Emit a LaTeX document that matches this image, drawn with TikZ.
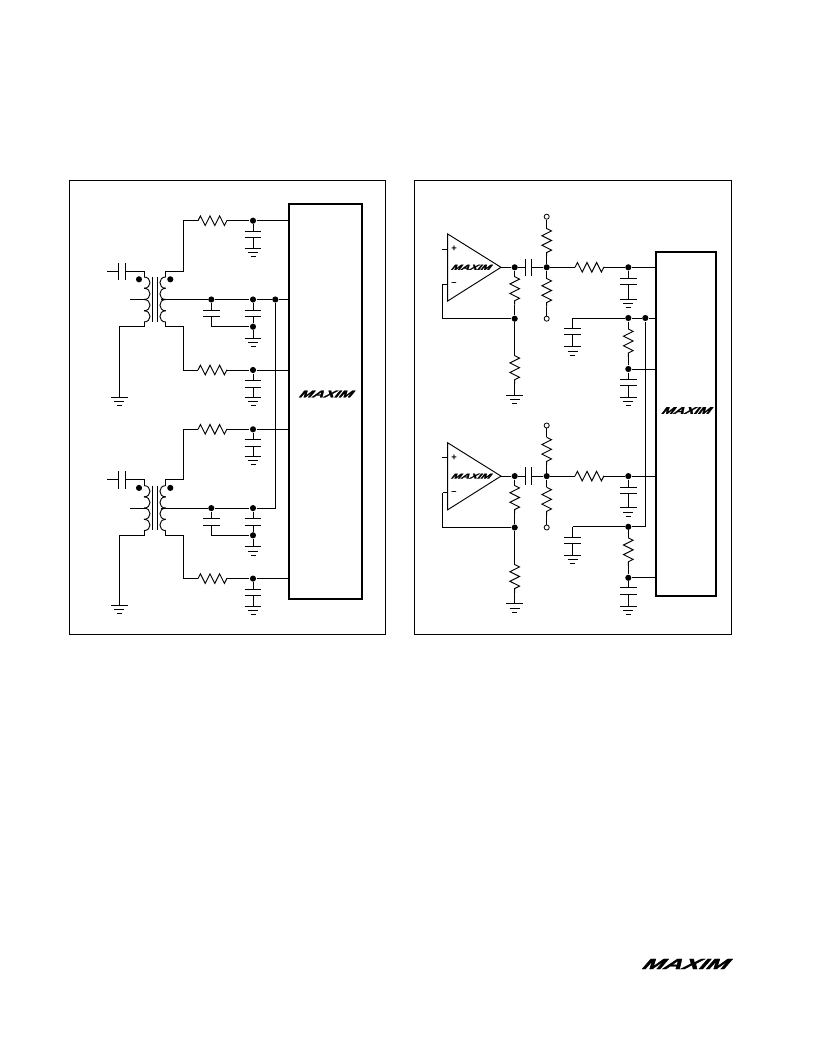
\documentclass[tikz,border=0pt]{standalone}
\usepackage{fontspec}
\usepackage{tikz}
\usetikzlibrary{decorations.pathmorphing}
\newfontfamily\logofont[FakeSlant=0.5,FakeBold=2]{Liberation Sans}
\newfontfamily\signfont{Liberation Sans}
\newcommand{\maximtext}[2]{\resizebox{#1}{#2}{\logofont\bfseries MAXIM}}
\tikzset{
  wire/.style={line width=0.7pt},
  dot/.style={circle,fill=black,inner sep=0pt,minimum size=4.6pt},
  hole/.style={circle,draw,fill=white,line width=0.6pt,inner sep=0pt,minimum size=3.8pt},
  resistor/.style={decorate,decoration={zigzag,segment length=7.2pt,amplitude=3.6pt}},
  pinsign/.style={inner sep=0pt,font=\signfont\fontsize{7}{7}\selectfont\bfseries},
  platev/.pic={\draw (0,-8.7) -- (0,8.7);},
  plateh/.pic={\draw (-8.3,0) -- (8.3,0);},
  gnd/.pic={\draw (-8.3,0) -- (8.3,0) (-5,4.3) -- (5,4.3) (-2.5,8.3) -- (2.5,8.3);},
  pics/capgnd/.style={code={
    \draw (-8.3,0) -- (8.3,0) (-8.3,6.5) -- (8.3,6.5);
    \draw (0,6.5) -- (0,#1) pic{gnd};}}
}
\begin{document}
\begin{tikzpicture}[x=0.75pt,y=-0.75pt,every path/.style={wire}]
\useasboundingbox (0,0) rectangle (816,1056);
\draw (69,180.5) rectangle (385,634);
\draw (414.5,180.5) rectangle (731,634);
\draw[line width=1.5pt] (289,204) coordinate (icLnw) rectangle (362,598.7);
\draw[line width=1.5pt] (656,252) coordinate (icRnw) rectangle (716,596);
\node[inner sep=0pt] (logoL) at (324.5,394) {\maximtext{39.8pt}{5pt}};
\node[inner sep=0pt] (logoR) at (685,410.5) {\maximtext{36.5pt}{5pt}};
\node[inner sep=0pt] (logoP) at (683,964) {\maximtext{64pt}{7.6pt}};
% left side, two transformer stages
\foreach \dy/\u in {0/a,208.6/b}{
\begin{scope}[shift={(0,\dy)}]
  \coordinate (in\u) at (107,271.2);
  \coordinate (cpa\u) at (118,271.2);
  \coordinate (cpb\u) at (125,271.2);
  \coordinate (pt\u) at (144,271.2);
  \coordinate (pb\u) at (144,326.7);
  \coordinate (pg\u) at (119.3,326.7);
  \coordinate (gp\u) at (119.3,397);
  \coordinate (ptap\u) at (130,299.5);
  \coordinate (ptip\u) at (146,299.5);
  \coordinate (st\u) at (165.7,271.2);
  \coordinate (sb\u) at (165.7,326.7);
  \coordinate (stk\u) at (183.5,271.2);
  \coordinate (sbk\u) at (183.5,326.7);
  \coordinate (stn\u) at (183.5,220.7);
  \coordinate (sbn\u) at (183.5,370);
  \coordinate (rta\u) at (198,220.7);
  \coordinate (rtb\u) at (227,220.7);
  \coordinate (rba\u) at (198,370);
  \coordinate (rbb\u) at (227,370);
  \coordinate (stip\u) at (160.5,299.5);
  \node[dot] (dt\u) at (253,220.7) {};
  \node[dot] (db\u) at (253,370) {};
  \node[dot] (dca\u) at (211.3,299.5) {};
  \node[dot] (dcb\u) at (253,299.5) {};
  \node[dot] (dg\u) at (253,326.7) {};
  \node[dot] (pdot\u) at (139,279.3) {};
  \node[dot] (sdot\u) at (170.3,279.3) {};
  \coordinate (ct\u) at (253,231);
  \coordinate (cb\u) at (253,380.5);
  \coordinate (cca\u) at (211.3,310);
  \coordinate (ccb\u) at (211.3,316.7);
  \coordinate (cck\u) at (211.3,326.7);
  \coordinate (cda\u) at (253,310);
  \coordinate (cdb\u) at (253,316.7);
  \coordinate (gc\u) at (253,338.3);
  % primary
  \draw (in\u) -- (cpa\u) pic{platev} (cpb\u) pic{platev} -- (pt\u) -- (144,277);
  \draw (144,322) -- (pb\u) -- (pg\u) -- (gp\u) pic{gnd};
  \draw (ptap\u) -- (ptip\u);
  \foreach \y in {277,288.25,299.5,310.75}{
    \draw (144,\y) .. controls (152,\y) and (152,\y+11.25) .. (144,\y+11.25);
    \draw (165.7,\y) .. controls (158,\y) and (158,\y+11.25) .. (165.7,\y+11.25);
  }
  \draw (152.3,277) -- (152.3,321.7);
  \draw (157.7,277) -- (157.7,321.7);
  % secondary
  \draw (165.7,277) -- (st\u) -- (stk\u) -- (stn\u) -- (rta\u);
  \draw[resistor] (rta\u) -- (rtb\u);
  \draw (rtb\u) -- (dt\u) -- (dt\u -| icLnw);
  \draw (165.7,322) -- (sb\u) -- (sbk\u) -- (sbn\u) -- (rba\u);
  \draw[resistor] (rba\u) -- (rbb\u);
  \draw (rbb\u) -- (db\u) -- (db\u -| icLnw);
  \draw (dt\u) -- (ct\u) pic{capgnd=17};
  \draw (db\u) -- (cb\u) pic{capgnd=17};
  % centre tap
  \draw (stip\u) -- (dca\u) -- (dcb\u);
  \draw (dca\u) -- (cca\u) pic{plateh} (ccb\u) pic{plateh} -- (cck\u) -- (dg\u);
  \draw (dcb\u) -- (cda\u) pic{plateh} (cdb\u) pic{plateh} -- (dg\u) -- (gc\u) pic{gnd};
\end{scope}
}
\node[dot] (dtap) at (275.3,299.5) {};
\draw (dcba) -- (dtap) -- (dtap -| icLnw);
\draw (dcbb) -- (dcbb -| dtap) -- (dtap);
% right side, two amplifier stages
\foreach \dy/\u in {0/a,208.8/b}{
\begin{scope}[shift={(0,\dy)}]
  \coordinate (ta\u) at (447.7,234);
  \coordinate (tb\u) at (447.7,301);
  \coordinate (tc\u) at (501,267.3);
  \coordinate (ip\u) at (441.7,249);
  \coordinate (ipa\u) at (447.7,249);
  \coordinate (im\u) at (447.7,284);
  \coordinate (fba\u) at (442.7,284);
  \coordinate (fbb\u) at (442.7,318.7);
  \draw (ta\u) -- (tb\u) -- (tc\u) -- cycle;
  \draw (ip\u) -- (ipa\u);
  \draw (im\u) -- (fba\u);
  \node[pinsign] (plus\u) at (454,249) {+};
  \node[pinsign] (minus\u) at (454,284) {–};
  \node[inner sep=0pt] (logoA\u) at (470,267.3) {\maximtext{29.5pt}{3.8pt}};
  \node[dot] (dout\u) at (514.7,267.3) {};
  \node[dot] (dfb\u) at (514.7,318.7) {};
  \node[dot] (dmid\u) at (546.7,267.3) {};
  \node[dot] (dflt\u) at (628.3,267.3) {};
  \node[dot] (dlow\u) at (628.3,369) {};
  \node[hole] (vt\u) at (546.7,216.7) {};
  \node[hole] (vb\u) at (546.7,318.7) {};
  \coordinate (csa\u) at (525.7,267.3);
  \coordinate (csb\u) at (531.7,267.3);
  \coordinate (rfa\u) at (514.7,276.7);
  \coordinate (rfb\u) at (514.7,304.5);
  \coordinate (rga\u) at (514.7,355.7);
  \coordinate (rgb\u) at (514.7,384);
  \coordinate (gr\u) at (514.7,395);
  \coordinate (rua\u) at (546.7,256);
  \coordinate (rub\u) at (546.7,228.5);
  \coordinate (rda\u) at (546.7,278.5);
  \coordinate (rdb\u) at (546.7,306.5);
  \coordinate (rsa\u) at (575,267.3);
  \coordinate (rsb\u) at (604,267.3);
  \coordinate (cf\u) at (628.3,278.3);
  \coordinate (rail\u) at (572.7,318);
  \coordinate (crl\u) at (572.7,328.3);
  \coordinate (rla\u) at (628.3,329);
  \coordinate (rlb\u) at (628.3,357.3);
  \coordinate (cl\u) at (628.3,379);
  \node[dot] (drl\u) at (628.3,318) {};
  \draw (tc\u) -- (dout\u) -- (csa\u) pic{platev} (csb\u) pic{platev} -- (dmid\u) -- (rsa\u);
  \draw[resistor] (rsa\u) -- (rsb\u);
  \draw (rsb\u) -- (dflt\u) -- (dflt\u -| icRnw);
  \draw (fba\u) -- (fbb\u) -- (dfb\u);
  \draw (dout\u) -- (rfa\u);
  \draw[resistor] (rfa\u) -- (rfb\u);
  \draw (rfb\u) -- (dfb\u) -- (rga\u);
  \draw[resistor] (rga\u) -- (rgb\u);
  \draw (rgb\u) -- (gr\u) pic{gnd};
  \draw (vt\u) -- (rub\u);
  \draw[resistor] (rub\u) -- (rua\u);
  \draw (rua\u) -- (dmid\u) -- (rda\u);
  \draw[resistor] (rda\u) -- (rdb\u);
  \draw (rdb\u) -- (vb\u);
  \draw (dflt\u) -- (cf\u) pic{capgnd=20.7};
  \draw (rail\u) -- (crl\u) pic{capgnd=18.4};
  \draw (rail\u) -- (drl\u) -- (rla\u);
  \draw[resistor] (rla\u) -- (rlb\u);
  \draw (rlb\u) -- (dlow\u) -- (dlow\u -| icRnw);
  \draw (dlow\u) -- (cl\u) pic{capgnd=18.3};
\end{scope}
}
\node[dot] (dbias) at (645.3,318) {};
\draw (drla) -- (dbias) -- (dbias -| icRnw);
\draw (drlb) -- (drlb -| dbias) -- (dbias);
\end{tikzpicture}
\end{document}
